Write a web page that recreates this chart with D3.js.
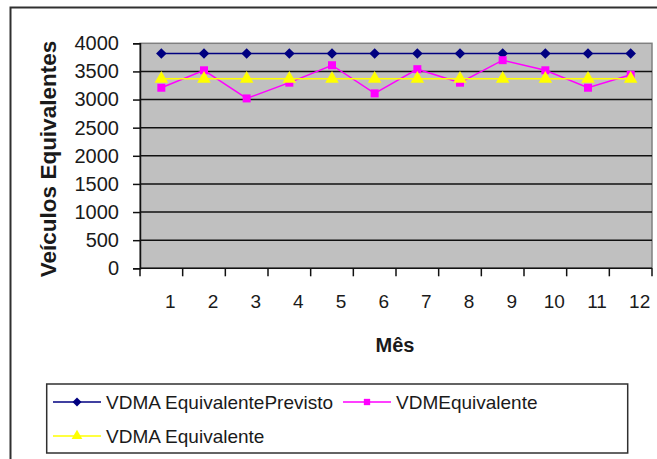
<!DOCTYPE html>
<html><head><meta charset="utf-8">
<script src="https://cdn.jsdelivr.net/npm/d3@7"></script>
<style>
html,body{margin:0;padding:0;background:#fff;}
svg{display:block;font-family:Arial,"Liberation Sans",sans-serif;}
</style></head>
<body>
<svg id="c" width="657" height="459"></svg>
<script>
const months = ["1","2","3","4","5","6","7","8","9","10","11","12"];
const previsto = [3820,3820,3820,3820,3820,3820,3820,3820,3820,3820,3820,3820];
const vdmEquivalente = [3210,3520,3020,3300,3610,3110,3540,3300,3700,3520,3210,3440];
const vdmaEquivalente = [3370,3370,3370,3370,3370,3370,3370,3370,3370,3370,3370,3370];
const yTicks = [0,500,1000,1500,2000,2500,3000,3500,4000];
const seriesNames = ["VDMA EquivalentePrevisto","VDMEquivalente","VDMA Equivalente"];

const svg = d3.select("#c");
const L = 140, R = 652, T = 43.3, B = 268.3;

// outer frame
svg.append("rect").attr("x",10.5).attr("y",7.5).attr("width",700).attr("height",500)
  .attr("fill","none").attr("stroke","#303030").attr("stroke-width",2);

const x = d3.scaleBand().domain(months).range([L,R]).padding(0);
const y = d3.scaleLinear().domain([0,4000]).range([B,T]);

// plot area
svg.append("rect").attr("x",L).attr("y",T).attr("width",R-L).attr("height",B-T)
  .attr("fill","#c0c0c0").attr("stroke","#808080").attr("stroke-width",1.5);

// gridlines
svg.append("g").selectAll("line").data(yTicks.filter(d=>d>0&&d<4000)).join("line")
  .attr("x1",L).attr("x2",R).attr("y1",d=>y(d)).attr("y2",d=>y(d))
  .attr("stroke","#111").attr("stroke-width",1.5);

// y axis
const ya = svg.append("g").attr("transform",`translate(${L},0)`)
  .call(d3.axisLeft(y).tickValues(yTicks).tickSize(7).tickPadding(14).tickFormat(d3.format("d")));
ya.select(".domain").attr("stroke","#111").attr("stroke-width",1.5);
ya.selectAll(".tick line").attr("stroke","#111").attr("stroke-width",1.5);
ya.selectAll("text").attr("font-size",20).attr("fill","#1a1a1a").attr("font-family","Arial,'Liberation Sans',sans-serif");

// x axis: ticks at band boundaries
const xa = svg.append("g").attr("transform",`translate(0,${B})`);
xa.append("line").attr("x1",L).attr("x2",R).attr("stroke","#111").attr("stroke-width",1.5);
const bounds = months.map(m=>x(m)).concat([R]);
xa.selectAll("line.tk").data(bounds).join("line").attr("class","tk")
  .attr("x1",d=>d).attr("x2",d=>d).attr("y1",0).attr("y2",8)
  .attr("stroke","#111").attr("stroke-width",1.5);
xa.selectAll("text").data(months).join("text")
  .attr("x",d=>x(d)+x.bandwidth()/2+9).attr("y",40)
  .attr("text-anchor","middle").attr("font-size",19).attr("fill","#1a1a1a")
  .text(d=>d);

// axis titles
svg.append("text").attr("transform","translate(56,159) rotate(-90)")
  .attr("text-anchor","middle").attr("font-size",22.5).attr("font-weight","bold").attr("fill","#1a1a1a")
  .text("Veículos Equivalentes");
svg.append("text").attr("x",395).attr("y",352).attr("text-anchor","middle")
  .attr("font-size",20).attr("font-weight","bold").attr("fill","#1a1a1a").text("Mês");

const cx = m => x(m)+x.bandwidth()/2;
const line = d3.line().x((d,i)=>cx(months[i])).y(d=>y(d));

const wideDiamond = {draw(ctx,size){const r=Math.sqrt(size/2);ctx.moveTo(0,-r);ctx.lineTo(r,0);ctx.lineTo(0,r);ctx.lineTo(-r,0);ctx.closePath();}};
const diamond = d3.symbol().type(wideDiamond).size(56);
const square = d3.symbol().type(d3.symbolSquare).size(64);
const tri = d3.symbol().type(d3.symbolTriangle).size(80);

function drawSeries(vals,color,sym,w){
  const g = svg.append("g");
  g.append("path").datum(vals).attr("d",line).attr("fill","none").attr("stroke",color).attr("stroke-width",w);
  g.selectAll("path.m").data(vals).join("path").attr("class","m")
    .attr("transform",(d,i)=>`translate(${cx(months[i])},${y(d)})`)
    .attr("d",sym).attr("fill",color);
}
drawSeries(previsto,"#000080",diamond,1.5);
drawSeries(vdmEquivalente,"#ff00ff",square,1.5);
drawSeries(vdmaEquivalente,"#ffff00",tri,1.5);

// legend
svg.append("rect").attr("x",46.7).attr("y",384).attr("width",581).attr("height",69)
  .attr("fill","#fff").attr("stroke","#303030").attr("stroke-width",1.5);
const legItems = [
  {name:seriesNames[0],color:"#000080",sym:d3.symbol().type(wideDiamond).size(40),lx:53,ly:402},
  {name:seriesNames[1],color:"#ff00ff",sym:d3.symbol().type(d3.symbolSquare).size(40),lx:343,ly:402},
  {name:seriesNames[2],color:"#ffff00",sym:d3.symbol().type(d3.symbolTriangle).size(50),lx:53,ly:436}
];
const lg = svg.append("g").selectAll("g").data(legItems).join("g")
  .attr("transform",d=>`translate(${d.lx},${d.ly})`);
lg.append("line").attr("x1",0).attr("x2",48).attr("stroke",d=>d.color).attr("stroke-width",1.5);
lg.append("path").attr("transform","translate(24,0)").attr("d",d=>d.sym()).attr("fill",d=>d.color);
lg.append("text").attr("x",53).attr("y",7).attr("font-size",19).attr("fill","#1a1a1a").text(d=>d.name);
</script>
</body></html>
